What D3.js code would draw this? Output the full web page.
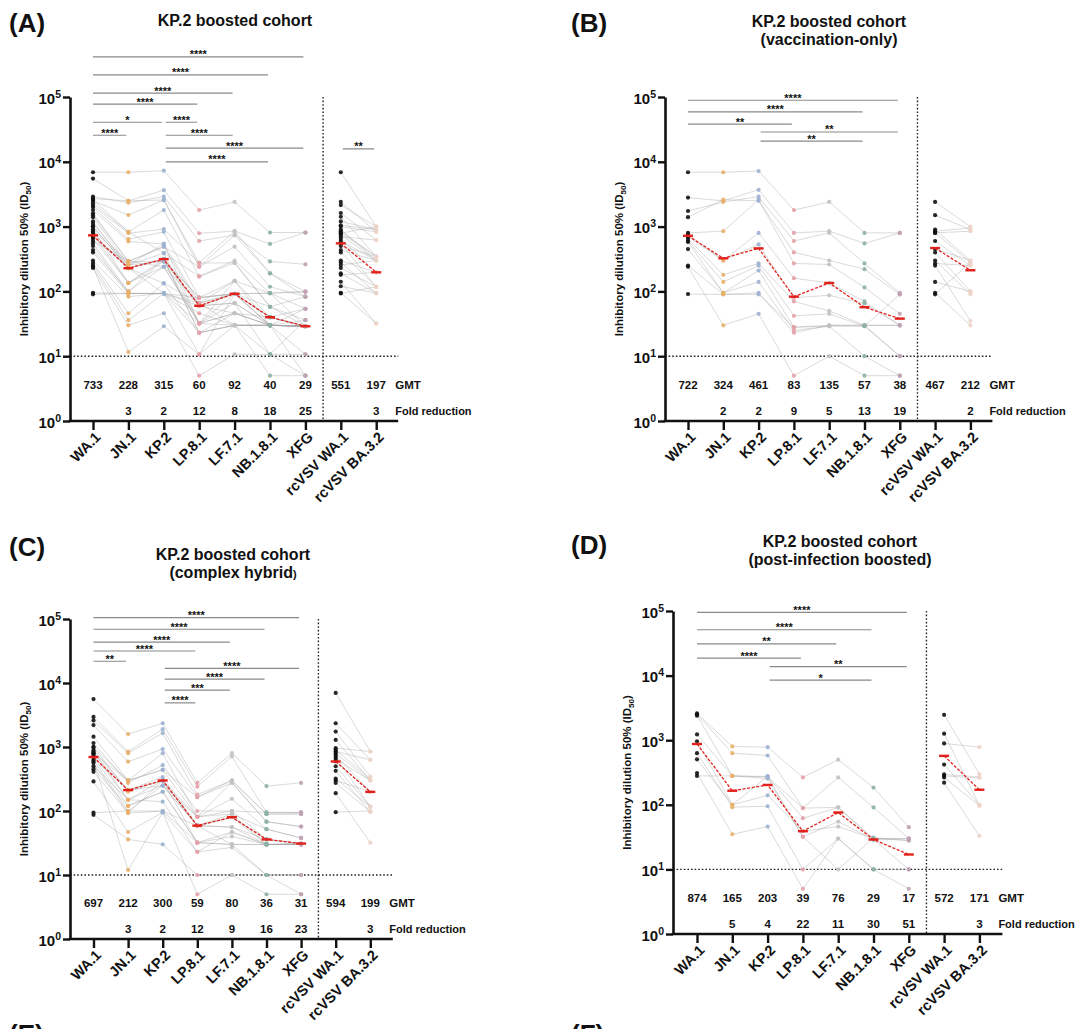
<!DOCTYPE html>
<html>
<head>
<meta charset="utf-8">
<script src="https://cdn.jsdelivr.net/npm/d3@7"></script>
<style>
  body { margin: 0; background: #fff; }
  svg text { font-family: "Liberation Sans", Arial, sans-serif; font-weight: bold; fill: #111; }
</style>
</head>
<body>
<svg id="fig" width="1080" height="1029"></svg>
<script>
// --- data --------------------------------------------------------------------

const categories = ['WA.1', 'JN.1', 'KP.2', 'LP.8.1', 'LF.7.1', 'NB.1.8.1', 'XFG', 'rcVSV WA.1', 'rcVSV BA.3.2'];
const yTicks = [1, 10, 100, 1000, 10000, 100000];

// per-donor ID50 for WA.1 .. XFG (pseudovirus panel)
const donorsA = [
  [6900, 6900, 7300, 1800, 2400, 810, 810],
  [5500, 2500, 3650, 790, 850, 540, 810],
  [2900, 2340, 2900, 600, 740, 290, 262],
  [2700, 2500, 2570, 275, 850, 190, 99],
  [2500, 1510, 2570, 240, 490, 118, 83],
  [2300, 830, 1800, 170, 300, 94, 54],
  [2100, 790, 915, 275, 275, 58, 36],
  [2000, 640, 830, 80, 145, 40, 29],
  [1800, 590, 540, 66, 92, 30, 29],
  [1600, 290, 490, 60, 66, 30, 29],
  [1400, 255, 390, 32, 46, 30, 36],
  [1200, 228, 315, 80, 92, 40, 29],
  [1100, 255, 290, 60, 66, 30, 29],
  [1000, 228, 315, 23, 46, 40, 54],
  [900, 135, 290, 32, 92, 58, 83],
  [850, 290, 240, 66, 145, 94, 99],
  [800, 228, 315, 60, 92, 30, 29],
  [750, 135, 240, 32, 46, 30, 10.7],
  [700, 228, 133, 66, 92, 94, 99],
  [650, 135, 315, 23, 30, 30, 29],
  [600, 290, 290, 80, 92, 40, 29],
  [550, 100, 240, 32, 30, 10.7, 5],
  [500, 93, 93, 23, 30, 30, 29],
  [435, 100, 315, 60, 92, 30, 54],
  [400, 93, 93, 32, 66, 10.7, 10.7],
  [300, 83, 93, 46, 30, 30, 29],
  [275, 46, 133, 23, 30, 5, 5],
  [255, 36, 93, 10.7, 92, 40, 29],
  [230, 30, 46, 5, 10.7, 10.7, 36],
  [240, 11.6, 29, 10.7, 30, 30, 29],
  [95, 93, 93, 80, 92, 94, 29],
  [90, 93, 93, 60, 46, 30, 5],
  [2600, 830, 390, 170, 275, 58, 29],
  [1500, 290, 490, 240, 740, 190, 83],
  [1000, 228, 93, 66, 30, 30, 29],
  [700, 255, 540, 32, 145, 30, 29],
];
// rcVSV WA.1 -> rcVSV BA.3.2 pairs
const rcvsvA = [
  [6900, 1000], [2400, 830], [2150, 1000], [1620, 620], [1420, 345], [1050, 900],
  [1000, 830], [900, 300], [850, 345], [790, 1000], [750, 300], [700, 620],
  [650, 197], [600, 300], [550, 118], [500, 345], [435, 300], [400, 118],
  [300, 197], [280, 94], [255, 300], [230, 118], [190, 94], [180, 197],
  [141, 32], [120, 94], [95, 32], [93, 118], [1200, 900], [800, 345],
];
const gmtA  = [733, 228, 315, 60, 92, 40, 29, 551, 197];
const foldA = [null, 3, 2, 12, 8, 18, 25, null, 3];
// [from, to, stars, bar height as log10 ID50]
const sigA = [
  [0, 6, '****', 5.62], [0, 5, '****', 5.34], [0, 4, '****', 5.06], [0, 3, '****', 4.89],
  [0, 2, '*', 4.61], [2, 3, '****', 4.61], [0, 1, '****', 4.41], [2, 4, '****', 4.41],
  [2, 6, '****', 4.21], [2, 5, '****', 4.0], [7, 8, '**', 4.2],
];

const donorsB = [
  [6900, 6900, 7200, 1800, 2400, 800, 800],
  [2800, 2500, 3700, 800, 850, 550, 800],
  [1740, 2400, 2900, 600, 800, 270, 95],
  [1400, 2600, 2500, 400, 300, 220, 90],
  [800, 850, 2600, 270, 260, 115, 45],
  [750, 300, 800, 160, 135, 70, 30],
  [700, 300, 530, 80, 87, 65, 30],
  [650, 180, 270, 70, 50, 30, 30],
  [600, 140, 250, 42, 45, 29, 10],
  [580, 95, 210, 28, 30, 30, 10],
  [450, 95, 140, 25, 29, 10, 5],
  [250, 90, 95, 23, 30, 30, 30],
  [240, 30, 45, 5, 10, 5, 5],
  [91, 90, 90, 28, 29, 29, 90],
];
const rcvsvB = [
  [2400, 1000], [1500, 900], [900, 300], [850, 950], [800, 850], [800, 280], [600, 250],
  [450, 300], [400, 100], [300, 90], [270, 250], [250, 35], [140, 100], [95, 30], [90, 280],
];
const gmtB  = [722, 324, 461, 83, 135, 57, 38, 467, 212];
const foldB = [null, 2, 2, 9, 5, 13, 19, null, 2];
const sigB = [
  [0, 6, '****', 4.95], [0, 5, '****', 4.77], [0, 3, '**', 4.58], [2, 6, '**', 4.46], [2, 5, '**', 4.32],
];

const donorsC = [
  [5600, 1590, 2350, 275, 800, 245, 275],
  [2950, 850, 1900, 240, 710, 95, 95],
  [2600, 800, 1650, 180, 300, 90, 90],
  [2200, 590, 930, 165, 275, 68, 57],
  [1450, 300, 800, 81, 155, 52, 38],
  [1150, 275, 520, 100, 100, 36, 31],
  [1000, 300, 440, 81, 90, 30, 30],
  [900, 212, 340, 59, 80, 30, 30],
  [850, 150, 300, 59, 56, 36, 31],
  [800, 212, 300, 32, 47, 30, 30],
  [750, 150, 250, 59, 90, 52, 38],
  [700, 120, 200, 32, 40, 30, 30],
  [630, 100, 250, 81, 100, 95, 95],
  [560, 93, 300, 59, 30, 10, 10],
  [500, 150, 140, 23, 27, 10, 5],
  [450, 120, 200, 32, 30, 30, 30],
  [410, 93, 100, 59, 80, 36, 31],
  [290, 47, 95, 23, 47, 30, 31],
  [94, 100, 100, 32, 30, 30, 31],
  [87, 36, 30, 10, 10, 5, 5],
  [600, 12, 95, 5, 10, 10, 10],
  [1000, 200, 300, 81, 280, 68, 57],
  [800, 300, 440, 165, 300, 89, 90],
  [700, 212, 250, 59, 56, 30, 30],
];
const rcvsvC = [
  [7000, 850], [2350, 630], [1740, 345], [1290, 300], [960, 850], [900, 320], [800, 300],
  [750, 200], [700, 117], [650, 300], [600, 200], [425, 97], [320, 117], [300, 200],
  [275, 97], [190, 32], [96, 100], [850, 630], [500, 117],
];
const gmtC  = [697, 212, 300, 59, 80, 36, 31, 594, 199];
const foldC = [null, 3, 2, 12, 9, 16, 23, null, 3];
const sigC = [
  [0, 6, '****', 5.02], [0, 5, '****', 4.84], [0, 4, '****', 4.64], [0, 3, '****', 4.5],
  [0, 1, '**', 4.34], [2, 6, '****', 4.23], [2, 5, '****', 4.06], [2, 4, '***', 3.89],
  [2, 3, '****', 3.69],
];

const donorsD = [
  [2600, 800, 780, 265, 500, 185, 45],
  [2500, 630, 580, 89, 265, 91, 30],
  [2400, 280, 275, 62, 91, 30, 28],
  [1230, 280, 255, 32, 55, 29, 10],
  [960, 100, 140, 39, 46, 30, 30],
  [630, 92, 95, 10, 30, 10, 5],
  [505, 100, 275, 32, 10, 31, 28],
  [310, 35, 46, 5, 30, 10, 10],
  [280, 280, 270, 89, 91, 29, 30],
];
const rcvsvD = [
  [2470, 300], [1260, 97], [890, 780], [420, 100], [295, 270], [280, 260], [265, 97], [220, 33],
];
const gmtD  = [874, 165, 203, 39, 76, 29, 17, 572, 171];
const foldD = [null, 5, 4, 22, 11, 30, 51, null, 3];
const sigD = [
  [0, 6, '****', 4.98], [0, 5, '****', 4.71], [0, 4, '**', 4.49], [0, 3, '****', 4.27],
  [2, 6, '**', 4.14], [2, 5, '*', 3.93],
];

// --- styling -----------------------------------------------------------------

const DOT_COLORS = ['#111111', '#e8b06a', '#9db3d0', '#e4a1aa', '#c2c2c2', '#8db1a4', '#bfa2b2', '#111111', '#ecd3c8'];
const GMT_RED = '#e3211c';

// panel placement on the 1080x1029 canvas
const PANELS = [
  { letter: '(A)', title: ['KP.2 boosted cohort'], donors: donorsA, pairs: rcvsvA, gmt: gmtA, fold: foldA, sig: sigA,
    L: { axisX: 70, firstX: 93, step: 35.4, yTop: 97, yBottom: 421, letterX: 9, letterY: 32, titleX: 235, titleY: 26 } },
  { letter: '(B)', title: ['KP.2 boosted cohort', '(vaccination-only)'], donors: donorsB, pairs: rcvsvB, gmt: gmtB, fold: foldB, sig: sigB,
    L: { axisX: 665, firstX: 688, step: 35.3, yTop: 97, yBottom: 421, letterX: 571, letterY: 32, titleX: 829, titleY: 27 } },
  { letter: '(C)', title: ['KP.2 boosted cohort', '(complex hybrid)'], donors: donorsC, pairs: rcvsvC, gmt: gmtC, fold: foldC, sig: sigC,
    L: { axisX: 70, firstX: 93.5, step: 34.6, yTop: 619, yBottom: 939, letterX: 9, letterY: 556, titleX: 233, titleY: 560 } },
  { letter: '(D)', title: ['KP.2 boosted cohort', '(post-infection boosted)'], donors: donorsD, pairs: rcvsvD, gmt: gmtD, fold: foldD, sig: sigD,
    L: { axisX: 673, firstX: 697, step: 35.3, yTop: 611, yBottom: 934, letterX: 571, letterY: 554, titleX: 840, titleY: 547 } },
];

const svg = d3.select('#fig');

function drawPanel(p) {
  const L = p.L;
  const g = svg.append('g');
  const x = d3.scalePoint().domain(categories)
    .range([L.firstX, L.firstX + L.step * (categories.length - 1)]);
  const y = d3.scaleLog().domain([1, 1e5]).range([L.yBottom, L.yTop]);
  const axisEnd = x(categories[8]) + (L.firstX - L.axisX) - 1;
  const sepX = (x(categories[6]) + x(categories[7])) / 2;

  // panel letter + title
  g.append('text').attr('x', L.letterX).attr('y', L.letterY)
    .style('font-size', '26px').text(p.letter);
  p.title.forEach((t, i) => {
    const tt = g.append('text').attr('x', L.titleX).attr('y', L.titleY + i * 18)
      .attr('text-anchor', 'middle').style('font-size', '16px');
    if (t === '(complex hybrid)') {
      tt.append('tspan').text('(complex hybrid');
      tt.append('tspan').style('font-size', '11px').text(')');
    } else tt.text(t);
  });

  // dotted reference lines (LOD and separator)
  g.append('line')
    .attr('x1', L.axisX).attr('x2', axisEnd).attr('y1', y(10)).attr('y2', y(10))
    .attr('stroke', '#222').attr('stroke-width', 1.4).attr('stroke-dasharray', '1.6,2');
  g.append('line')
    .attr('x1', sepX).attr('x2', sepX).attr('y1', L.yTop).attr('y2', L.yBottom)
    .attr('stroke', '#222').attr('stroke-width', 1.4).attr('stroke-dasharray', '1.6,2');

  // donor lines
  const lineMain = d3.line().x((v, i) => x(categories[i])).y(v => y(v));
  const linePair = d3.line().x((v, i) => x(categories[7 + i])).y(v => y(v));
  g.append('g').selectAll('path')
    .data(p.donors).join('path')
      .attr('d', lineMain)
      .attr('fill', 'none').attr('stroke', '#a4a4a4').attr('stroke-opacity', 0.45).attr('stroke-width', 0.9);
  g.append('g').selectAll('path')
    .data(p.pairs).join('path')
      .attr('d', linePair)
      .attr('fill', 'none').attr('stroke', '#a4a4a4').attr('stroke-opacity', 0.45).attr('stroke-width', 0.9);

  // dots
  const dots = p.donors.flatMap(row => row.map((v, i) => ({ i, v })))
    .concat(p.pairs.flatMap(row => row.map((v, k) => ({ i: 7 + k, v }))));
  g.append('g').selectAll('circle')
    .data(dots).join('circle')
      .attr('cx', d => x(categories[d.i]))
      .attr('cy', d => y(d.v))
      .attr('r', 2.1)
      .attr('fill', d => DOT_COLORS[d.i])
      .attr('fill-opacity', 0.9);

  // GMT: dashed red connector + short solid bar at each variant
  const gmtPts = p.gmt.map((v, i) => ({ i, v }));
  const gmtLine = d3.line().x(d => x(categories[d.i])).y(d => y(d.v));
  [gmtPts.slice(0, 7), gmtPts.slice(7)].forEach(seg => {
    g.append('path').attr('d', gmtLine(seg))
      .attr('fill', 'none').attr('stroke', GMT_RED).attr('stroke-width', 1.3)
      .attr('stroke-dasharray', '3,1.6');
  });
  g.append('g').selectAll('line')
    .data(gmtPts).join('line')
      .attr('x1', d => x(categories[d.i]) - 5).attr('x2', d => x(categories[d.i]) + 5)
      .attr('y1', d => y(d.v)).attr('y2', d => y(d.v))
      .attr('stroke', GMT_RED).attr('stroke-width', 2.4);

  // y axis
  const gy = g.append('g').attr('transform', `translate(${L.axisX},0)`)
    .call(d3.axisLeft(y).tickValues(yTicks).tickSize(7).tickSizeOuter(0).tickPadding(2).tickFormat(() => ''));
  gy.select('.domain').attr('stroke', '#111').attr('stroke-width', 2.6);
  gy.selectAll('.tick line').attr('stroke', '#111').attr('stroke-width', 2.4);
  gy.selectAll('.tick text').each(function (d) {
    const t = d3.select(this).text('').attr('fill', '#111').attr('dy', '0.4em')
      .style('font-size', '15px').style('font-family', '"Liberation Sans", Arial, sans-serif');
    t.append('tspan').text('10');
    t.append('tspan').attr('dy', '-0.55em').style('font-size', '10.5px').text(Math.round(Math.log10(d)));
  });

  // y axis title
  const yt = g.append('text')
    .attr('transform', `translate(${L.axisX - 42},${(L.yTop + L.yBottom) / 2}) rotate(-90)`)
    .attr('text-anchor', 'middle').style('font-size', '11.5px');
  yt.append('tspan').text('Inhibitory dilution 50% (ID');
  yt.append('tspan').attr('dy', 3).style('font-size', '8px').text('50');
  yt.append('tspan').attr('dy', -3).text(')');

  // x axis
  const gx = g.append('g').attr('transform', `translate(0,${L.yBottom})`)
    .call(d3.axisBottom(x).tickSize(9).tickSizeOuter(0));
  gx.select('.domain').remove();
  gx.append('line').attr('x1', L.axisX - 1.3).attr('x2', axisEnd).attr('y1', 0).attr('y2', 0)
    .attr('stroke', '#111').attr('stroke-width', 2.6);
  gx.selectAll('.tick line').attr('stroke', '#111').attr('stroke-width', 2.4);
  gx.selectAll('.tick text').remove();
  gx.selectAll('.tick').append('text')
    .attr('text-anchor', 'end')
    .attr('transform', 'translate(8,17) rotate(-45)')
    .style('font-size', '14.5px')
    .text(d => d);

  // significance brackets
  const sg = g.append('g');
  p.sig.forEach(([a, b, stars, lvl]) => {
    const yy = y(Math.pow(10, lvl));
    const x1 = x(categories[a]) + (a === 0 ? 0 : 2);
    const x2 = x(categories[b]) - 2;
    sg.append('line').attr('x1', x1).attr('x2', x2).attr('y1', yy).attr('y2', yy)
      .attr('stroke', '#8a8a8a').attr('stroke-width', 1.2);
    sg.append('text').attr('x', (x1 + x2) / 2).attr('y', yy + 1.5)
      .attr('text-anchor', 'middle').style('font-size', '11px').text(stars);
  });

  // GMT and fold-reduction rows
  const rowG = g.append('g');
  rowG.selectAll('text.gmt').data(p.gmt).join('text')
    .attr('class', 'gmt')
    .attr('x', (v, i) => x(categories[i])).attr('y', L.yBottom - 32)
    .attr('text-anchor', 'middle').style('font-size', '11.5px')
    .text(v => v);
  rowG.selectAll('text.fold').data(p.fold.map((v, i) => ({ v, i })).filter(d => d.v != null)).join('text')
    .attr('class', 'fold')
    .attr('x', d => x(categories[d.i])).attr('y', L.yBottom - 6.5)
    .attr('text-anchor', 'middle').style('font-size', '11.5px')
    .text(d => d.v);
  const labX = x(categories[8]) + 19;
  rowG.append('text').attr('x', labX).attr('y', L.yBottom - 32).style('font-size', '11.5px').text('GMT');
  rowG.append('text').attr('x', labX).attr('y', L.yBottom - 6.5).style('font-size', '11px').text('Fold reduction');
}

PANELS.forEach(drawPanel);

// next row of panels peeks in at the bottom edge
svg.append('text').attr('x', 9).attr('y', 1043).style('font-size', '26px').text('(E)');
svg.append('text').attr('x', 571).attr('y', 1043).style('font-size', '26px').text('(F)');
</script>
</body>
</html>
